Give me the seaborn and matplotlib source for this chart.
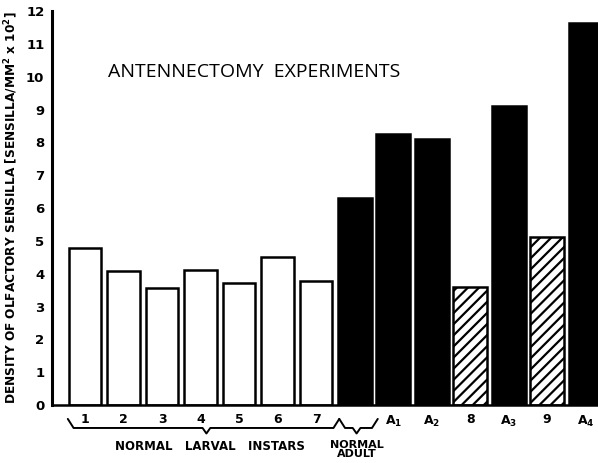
import matplotlib
matplotlib.use("Agg")
import matplotlib.pyplot as plt
import matplotlib.transforms as mtransforms
import seaborn as sns
import pandas as pd
import numpy as np

# ---- data ----
categories = ["1", "2", "3", "4", "5", "6", "7", "Adult", "A1", "A2", "8", "A3", "9", "A4"]
values = [4.80, 4.07, 3.58, 4.12, 3.72, 4.52, 3.78, 6.30, 8.25, 8.12, 3.60, 9.10, 5.12, 11.65]
kinds = ["larval"] * 7 + ["adult", "operated", "operated", "hatched", "operated", "hatched", "operated"]
tick_labels = ["1", "2", "3", "4", "5", "6", "7", "",
               r"$\mathbf{A_1}$", r"$\mathbf{A_2}$", "8", r"$\mathbf{A_3}$", "9", r"$\mathbf{A_4}$"]
title = "ANTENNECTOMY  EXPERIMENTS"
ylabel = r"DENSITY OF OLFACTORY SENSILLA [SENSILLA/MM$^\mathbf{2}$ x 10$^\mathbf{2}$]"
group_labels = ["NORMAL   LARVAL   INSTARS", "NORMAL\nADULT"]

df = pd.DataFrame({"cat": categories, "val": values, "kind": kinds})

sns.set_theme(style="white")
plt.rcParams["font.family"] = ["DejaVu Sans"]
plt.rcParams["font.weight"] = "bold"
for key in ["text.color", "axes.labelcolor", "xtick.color", "ytick.color"]:
    plt.rcParams[key] = "black"
plt.rcParams["hatch.linewidth"] = 1.6

fig = plt.figure(figsize=(5.98, 4.63), dpi=100)
ax = fig.add_axes([0.087, 0.125, 0.913, 0.851])

face = {"larval": "white", "adult": "black", "operated": "black", "hatched": "white"}
palette = [face[k] for k in kinds]
sns.barplot(data=df, x="cat", y="val", hue="cat", palette=palette, legend=False,
            order=categories, ax=ax, edgecolor="black", linewidth=1.8, saturation=1)

for p, k in zip(ax.patches, kinds):
    w = 0.84 if k == "larval" else 0.89
    cx = p.get_x() + p.get_width() / 2
    p.set_width(w)
    p.set_x(cx - w / 2)
    if k == "hatched":
        p.set_hatch("///")
        p.set_facecolor("white")

ax.set_xlim(-0.86, 13.32)
ax.set_ylim(0, 12)
ax.set_yticks(range(0, 13))
ax.set_yticklabels([str(i) for i in range(0, 13)], fontsize=9.5, fontweight="bold")
ax.set_xticks(range(len(categories)))
ax.set_xticklabels(tick_labels, fontsize=9, fontweight="bold")
ax.tick_params(axis="x", length=0, pad=6)
ax.tick_params(axis="y", direction="inout", length=9, width=1.8, pad=1)
for s in ["top", "right"]:
    ax.spines[s].set_visible(False)
ax.spines["left"].set_linewidth(2.2)
ax.spines["bottom"].set_linewidth(1.8)
for s in ["left", "bottom"]:
    ax.spines[s].set_color("black")
ax.set_xlabel("")
ax.set_ylabel(ylabel, fontsize=8.7, fontweight="bold", labelpad=6)
ax.yaxis.set_label_coords(-0.058, 0.5)

ax.text(0.103, 0.845, title, transform=ax.transAxes, fontsize=14, fontweight="normal",
        ha="left", va="center", family=["Open Sans", "DejaVu Sans"])

# braces
trans = mtransforms.blended_transform_factory(ax.transData, ax.transAxes)
def brace(x0, x1, xm, y_top=-0.035, y_mid=-0.058, y_tip=-0.072):
    xs = [x0 - 0.05, x0 + 0.1, xm - 0.1, xm, xm + 0.1, x1 - 0.1, x1 + 0.05]
    ys = [y_top, y_mid, y_mid, y_tip, y_mid, y_mid, y_top]
    ax.plot(xs, ys, transform=trans, color="black", lw=1.4, clip_on=False)

brace(-0.4, 6.55, 3.15)
brace(6.65, 7.55, 7.05)
ax.text(3.25, -0.105, group_labels[0], transform=trans, fontsize=8.5, fontweight="bold",
        ha="center", va="center")
ax.text(7.05, -0.112, group_labels[1], transform=trans, fontsize=8, fontweight="bold",
        ha="center", va="center", linespacing=0.9)

fig.savefig("out.png", dpi=100)
